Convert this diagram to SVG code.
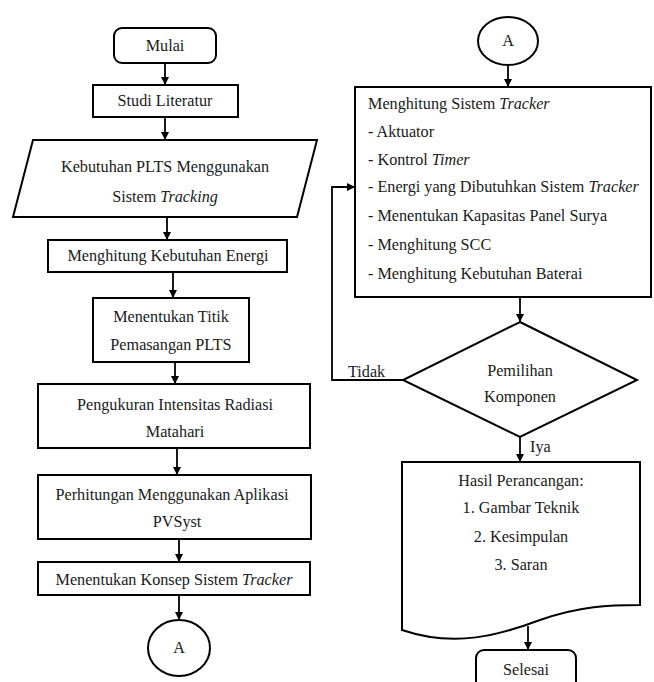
<svg xmlns="http://www.w3.org/2000/svg" width="654" height="682" viewBox="0 0 654 682">
<style>
.s{fill:#fff;stroke:#000;stroke-width:2}
.c{fill:none;stroke:#000;stroke-width:1.8}
text{font-family:'Liberation Serif','Times New Roman',serif;font-size:16.2px;fill:#1a1a1a}
.m{text-anchor:middle}
.i{font-style:italic}
</style>
<defs>
<marker id="ah" viewBox="0 0 10 10" refX="10" refY="5" markerWidth="8" markerHeight="8" markerUnits="userSpaceOnUse" orient="auto">
<path d="M0,0 L10,5 L0,10 z" fill="#000"/>
</marker>
</defs>
<rect width="654" height="682" fill="#fff"/>
<g id="connectors">
<line class="c" x1="165" y1="63" x2="165" y2="85" marker-end="url(#ah)"/>
<line class="c" x1="165" y1="117" x2="165" y2="140" marker-end="url(#ah)"/>
<line class="c" x1="167" y1="217" x2="167" y2="240" marker-end="url(#ah)"/>
<line class="c" x1="173" y1="272" x2="173" y2="298" marker-end="url(#ah)"/>
<line class="c" x1="175" y1="362" x2="175" y2="384" marker-end="url(#ah)"/>
<line class="c" x1="177" y1="448" x2="177" y2="475" marker-end="url(#ah)"/>
<line class="c" x1="179" y1="539" x2="179" y2="562" marker-end="url(#ah)"/>
<line class="c" x1="179" y1="595" x2="179" y2="620" marker-end="url(#ah)"/>
<line class="c" x1="508" y1="65" x2="508" y2="87" marker-end="url(#ah)"/>
<line class="c" x1="520" y1="297" x2="520" y2="322" marker-end="url(#ah)"/>
<polyline class="c" points="403,380 332,380 332,187 355,187" marker-end="url(#ah)"/>
<line class="c" x1="520" y1="437" x2="520" y2="462" marker-end="url(#ah)"/>
<line class="c" x1="528" y1="626" x2="528" y2="650" marker-end="url(#ah)"/>
<text x="348" y="377">Tidak</text>
<text x="530" y="452">Iya</text>
</g>
<g id="mulai">
<rect class="s" x="114" y="28" width="102" height="35" rx="8"/>
<text class="m" x="165" y="51">Mulai</text>
</g>
<g id="studi">
<rect class="s" x="93" y="85" width="145" height="32"/>
<text class="m" x="165" y="106">Studi Literatur</text>
</g>
<g id="kebutuhan">
<polygon class="s" points="33,140 317,140 297,217 13,217"/>
<text class="m" x="165" y="172">Kebutuhan PLTS Menggunakan</text>
<text class="m" x="165" y="202">Sistem <tspan class="i">Tracking</tspan></text>
</g>
<g id="energi">
<rect class="s" x="48" y="240" width="239" height="32"/>
<text class="m" x="168" y="261">Menghitung Kebutuhan Energi</text>
</g>
<g id="titik">
<rect class="s" x="93" y="298" width="156" height="64"/>
<text class="m" x="171" y="322">Menentukan Titik</text>
<text class="m" x="171" y="350">Pemasangan PLTS</text>
</g>
<g id="pengukuran">
<rect class="s" x="38" y="384" width="272" height="64"/>
<text class="m" x="175" y="410">Pengukuran Intensitas Radiasi</text>
<text class="m" x="175" y="437">Matahari</text>
</g>
<g id="perhitungan">
<rect class="s" x="38" y="475" width="273" height="64"/>
<text class="m" x="172" y="500">Perhitungan Menggunakan Aplikasi</text>
<text class="m" x="177" y="527">PVSyst</text>
</g>
<g id="konsep">
<rect class="s" x="38" y="562" width="272" height="33"/>
<text class="m" x="174" y="585">Menentukan Konsep Sistem <tspan class="i">Tracker</tspan></text>
</g>
<g id="a1">
<ellipse class="s" cx="179" cy="648" rx="31" ry="28"/>
<text class="m" x="179" y="653">A</text>
</g>
<g id="a2">
<ellipse class="s" cx="508" cy="41" rx="30" ry="24"/>
<text class="m" x="508" y="46">A</text>
</g>
<g id="tracker">
<rect class="s" x="355" y="87" width="296" height="210"/>
<text x="368" y="109">Menghitung Sistem <tspan class="i">Tracker</tspan></text>
<text x="368" y="137">- Aktuator</text>
<text x="368" y="165">- Kontrol <tspan class="i">Timer</tspan></text>
<text x="368" y="192">- Energi yang Dibutuhkan Sistem <tspan class="i">Tracker</tspan></text>
<text x="368" y="221">- Menentukan Kapasitas Panel Surya</text>
<text x="368" y="250">- Menghitung SCC</text>
<text x="368" y="279">- Menghitung Kebutuhan Baterai</text>
</g>
<g id="pemilihan">
<polygon class="s" points="520,322 637,380 520,437 403,380"/>
<text class="m" x="520" y="376">Pemilihan</text>
<text class="m" x="520" y="402">Komponen</text>
</g>
<g id="hasil">
<path class="s" d="M402,462 H640 V605 C610,605 580,606 540,620 C500,635 455,648 402,630 Z"/>
<text class="m" x="521" y="486">Hasil Perancangan:</text>
<text class="m" x="521" y="513">1. Gambar Teknik</text>
<text class="m" x="521" y="542">2. Kesimpulan</text>
<text class="m" x="521" y="570">3. Saran</text>
</g>
<g id="selesai">
<rect class="s" x="476" y="650" width="100" height="45" rx="8"/>
<text class="m" x="526" y="675">Selesai</text>
</g>
</svg>
